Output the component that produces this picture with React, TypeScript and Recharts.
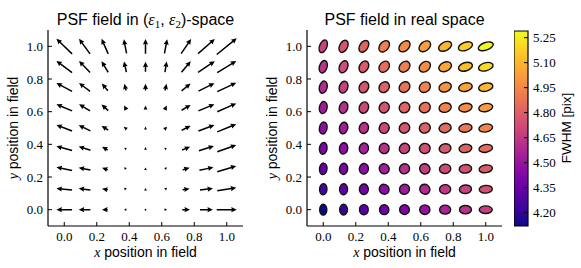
import React from "react";
import { ScatterChart, Scatter, XAxis, YAxis, ReferenceArea } from "recharts";

// grid of PSF sample positions (same for x and y)
const gridPos = [0, 0.125, 0.25, 0.375, 0.5, 0.625, 0.75, 0.875, 1.0];
const axisTicks = [0, 0.2, 0.4, 0.6, 0.8, 1.0];
const fwhmTicks = [4.2, 4.35, 4.5, 4.65, 4.8, 4.95, 5.1, 5.25];

// rows go from y = 0.0 (bottom) to y = 1.0 (top), columns x = 0.0 -> 1.0
const e1Rows = [
  [-0.209, -0.156, -0.076, -0.03, 0, 0.033, 0.103, 0.173, 0.267],
  [-0.209, -0.156, -0.076, -0.007, 0, 0.007, 0.093, 0.173, 0.253],
  [-0.209, -0.156, -0.076, -0.009, 0, 0.009, 0.093, 0.187, 0.253],
  [-0.209, -0.156, -0.076, -0.027, 0, 0.027, 0.107, 0.2, 0.253],
  [-0.209, -0.156, -0.089, -0.04, 0, 0.036, 0.12, 0.213, 0.253],
  [-0.209, -0.147, -0.089, -0.031, 0, 0.027, 0.12, 0.213, 0.253],
  [-0.209, -0.147, -0.08, -0.023, 0, 0.02, 0.12, 0.213, 0.253],
  [-0.209, -0.147, -0.089, -0.031, 0, 0.023, 0.124, 0.223, 0.253],
  [-0.209, -0.147, -0.089, -0.036, 0, 0.036, 0.133, 0.223, 0.267],
];

const e2Rows = [
  [0, 0, 0, 0, 0, 0, 0, 0, 0],
  [0.023, 0.017, 0.013, -0.033, 0.033, -0.033, 0.013, 0.023, 0.04],
  [0.044, 0.031, 0.027, -0.03, 0.033, -0.03, 0.027, 0.04, 0.076],
  [0.057, 0.049, 0.044, 0.013, 0.036, 0.013, 0.044, 0.063, 0.089],
  [0.08, 0.076, 0.053, 0.031, 0.04, 0.036, 0.063, 0.08, 0.103],
  [0.089, 0.089, 0.08, 0.057, 0.053, 0.057, 0.071, 0.089, 0.111],
  [0.111, 0.111, 0.097, 0.089, 0.089, 0.089, 0.097, 0.107, 0.12],
  [0.156, 0.156, 0.147, 0.143, 0.133, 0.143, 0.147, 0.147, 0.156],
  [0.2, 0.2, 0.2, 0.187, 0.196, 0.187, 0.196, 0.196, 0.217],
];

const fwhmRows = [
  [4.12, 4.21, 4.3, 4.37, 4.42, 4.49, 4.56, 4.62, 4.68],
  [4.25, 4.32, 4.39, 4.46, 4.53, 4.59, 4.65, 4.69, 4.74],
  [4.33, 4.4, 4.47, 4.54, 4.61, 4.67, 4.72, 4.75, 4.79],
  [4.41, 4.47, 4.55, 4.62, 4.69, 4.74, 4.78, 4.81, 4.85],
  [4.47, 4.53, 4.62, 4.71, 4.76, 4.81, 4.85, 4.89, 4.94],
  [4.53, 4.61, 4.71, 4.76, 4.82, 4.87, 4.93, 4.97, 5.02],
  [4.59, 4.68, 4.76, 4.81, 4.87, 4.93, 4.99, 5.04, 5.11],
  [4.63, 4.73, 4.79, 4.86, 4.92, 4.97, 5.06, 5.13, 5.21],
  [4.69, 4.76, 4.82, 4.92, 4.96, 5.03, 5.1, 5.17, 5.29],
];

const plasmaStops = [
  "#0d0887", "#41049d", "#6a00a8", "#8f0da4", "#b12a90", "#cc4778",
  "#e16462", "#f2844b", "#fca636", "#fcce25", "#f0f921",
];

const points = gridPos.flatMap((y, j) =>
  gridPos.map((x, i) => ({ x, y, e1: e1Rows[j][i], e2: e2Rows[j][i], fwhm: fwhmRows[j][i] }))
);
const fwhmMin = Math.min(...fwhmRows.flat());
const fwhmMax = Math.max(...fwhmRows.flat());

const serif = "'Liberation Serif', 'DejaVu Serif', serif";
const sans = "'Liberation Sans', Arial, sans-serif";
const ARROW_SCALE = 75; // px per unit ellipticity

function rgb(c: string) {
  return [1, 3, 5].map((k) => parseInt(c.slice(k, k + 2), 16));
}

function plasma(t: number) {
  const p = Math.max(0, Math.min(1, t)) * 10;
  const i = Math.min(9, Math.floor(p));
  const f = p - i;
  const a = rgb(plasmaStops[i]);
  const b = rgb(plasmaStops[i + 1]);
  const m = a.map((v, k) => Math.round(v + (b[k] - v) * f));
  return `rgb(${m[0]},${m[1]},${m[2]})`;
}

function Arrow(props: any) {
  const { cx, cy, payload } = props;
  const dx = payload.e1 * ARROW_SCALE;
  const dy = -payload.e2 * ARROW_SCALE;
  const len = Math.hypot(dx, dy);
  if (len < 1) return <circle cx={cx} cy={cy} r={0.9} fill="#000" />;
  const ux = dx / len, uy = dy / len;
  const nx = -uy, ny = ux;
  const tx = cx - (ux * len) / 2, ty = cy - (uy * len) / 2;
  const pt = (a: number, b: number) => `${tx + ux * a + nx * b},${ty + uy * a + ny * b}`;
  if (len < 5.5) {
    // short vectors: only the head is left
    const w = Math.max(1.4, (2.6 * len) / 5.5);
    return <polygon points={[pt(0, -w), pt(len, 0), pt(0, w)].join(" ")} fill="#000" />;
  }
  const hl = 5.5, hal = 5, hw = 2.6, sw = 0.75;
  const pts = [pt(0, -sw), pt(len - hal, -sw), pt(len - hl, -hw), pt(len, 0), pt(len - hl, hw), pt(len - hal, sw), pt(0, sw)].join(" ");
  return <polygon points={pts} fill="#000" />;
}

function PsfEllipse(props: any) {
  const { cx, cy, payload } = props;
  const g = Math.hypot(payload.e1, payload.e2);
  const theta = (0.5 * Math.atan2(payload.e2, payload.e1) * 180) / Math.PI;
  const s = payload.fwhm * 1.1;
  const color = plasma((payload.fwhm - fwhmMin) / (fwhmMax - fwhmMin));
  return (
    <ellipse cx={cx} cy={cy} rx={s * (1 + g)} ry={s * (1 - g)}
      transform={`rotate(${-theta} ${cx} ${cy})`} fill={color} stroke="#111" strokeWidth={1.4} />
  );
}

const Empty = () => <g />;

function BottomTick({ x, y, payload }: any) {
  return (
    <g>
      <line x1={x} y1={y} x2={x} y2={y - 4} stroke="#000" />
      <text x={x} y={y + 15} textAnchor="middle" fontFamily={serif} fontSize={13} fill="#000">
        {Number(payload.value).toFixed(1)}
      </text>
    </g>
  );
}
function TopTick({ x, y }: any) {
  return <line x1={x} y1={y} x2={x} y2={y + 4} stroke="#000" />;
}
function LeftTick({ x, y, payload }: any) {
  return (
    <g>
      <line x1={x} y1={y} x2={x + 4} y2={y} stroke="#000" />
      <text x={x - 5} y={y + 4.5} textAnchor="end" fontFamily={serif} fontSize={13} fill="#000">
        {Number(payload.value).toFixed(1)}
      </text>
    </g>
  );
}
function RightTick({ x, y }: any) {
  return <line x1={x} y1={y} x2={x - 4} y2={y} stroke="#000" />;
}
function CbarTick({ x, y, payload }: any) {
  return (
    <g>
      <line x1={x} y1={y} x2={x - 4} y2={y} stroke="#000" />
      <text x={x + 5} y={y + 4.5} textAnchor="start" fontFamily={serif} fontSize={13} fill="#000">
        {Number(payload.value).toFixed(2)}
      </text>
    </g>
  );
}

function FieldPanel({ left, shape }: { left: number; shape: any }) {
  const common = { type: "number" as const, domain: [-0.1, 1.1], ticks: axisTicks, allowDataOverflow: true,
    tickSize: 0, tickMargin: 0, tickLine: false, interval: 0 as const, axisLine: { stroke: "#000", strokeWidth: 1.2 } };
  return (
    <div style={{ position: "absolute", left, top: 0 }}>
      <ScatterChart width={243} height={268} margin={{ top: 30, right: 0, bottom: 0, left: 0 }}>
        <XAxis xAxisId="b" dataKey="x" height={42} tick={(p: any) => <BottomTick {...p} />} {...common} />
        <XAxis xAxisId="t" dataKey="x" orientation="top" height={0} tick={(p: any) => <TopTick {...p} />} {...common} />
        <YAxis yAxisId="l" dataKey="y" width={48} tick={(p: any) => <LeftTick {...p} />} {...common} />
        <YAxis yAxisId="r" dataKey="y" orientation="right" width={0} tick={(p: any) => <RightTick {...p} />} {...common} />
        <Scatter data={points} xAxisId="t" yAxisId="r" shape={Empty} isAnimationActive={false} />
        <Scatter data={points} xAxisId="b" yAxisId="l" shape={shape} isAnimationActive={false} />
      </ScatterChart>
    </div>
  );
}

const cbarData = [
  { x: 0, v: fwhmMin },
  { x: 1, v: fwhmMax },
];

function ColorBar() {
  return (
    <div style={{ position: "absolute", left: 514, top: 0 }}>
      <ScatterChart width={54} height={268} margin={{ top: 31, right: 0, bottom: 42, left: 0 }}>
        <defs>
          <linearGradient id="plasmaGrad" x1="0" y1="1" x2="0" y2="0">
            {plasmaStops.map((c, i) => (
              <stop key={c} offset={`${i * 10}%`} stopColor={c} />
            ))}
          </linearGradient>
        </defs>
        <XAxis dataKey="x" type="number" domain={[0, 1]} allowDataOverflow hide />
        <YAxis dataKey="v" type="number" orientation="right" width={40} domain={[fwhmMin, fwhmMax]}
          allowDataOverflow ticks={fwhmTicks} interval={0} tickSize={0} tickMargin={0} tickLine={false}
          axisLine={false} tick={(p: any) => <CbarTick {...p} />} />
        <Scatter data={cbarData} shape={Empty} isAnimationActive={false} />
        <ReferenceArea x1={0} x2={1} y1={fwhmMin} y2={fwhmMax} fill="url(#plasmaGrad)" fillOpacity={1}
          stroke="#000" strokeWidth={1.2} ifOverflow="visible" />
      </ScatterChart>
    </div>
  );
}

export default function App() {
  const eps = (n: string) => (
    <>
      <tspan fontFamily={serif} fontStyle="italic">ε</tspan>
      <tspan fontFamily={serif} fontSize={11} dy={3}>{n}</tspan>
    </>
  );
  return (
    <div style={{ position: "absolute", left: 0, top: 0, width: 581, height: 268, background: "#fff" }}>
      <FieldPanel left={0} shape={Arrow} />
      <FieldPanel left={259} shape={PsfEllipse} />
      <ColorBar />
      <svg width={581} height={268} style={{ position: "absolute", left: 0, top: 0, pointerEvents: "none" }}>
        <text x={145.5} y={25} textAnchor="middle" fontFamily={sans} fontSize={16} fill="#000">
          PSF field in ({eps("1")}<tspan dy={-3}>, </tspan>{eps("2")}<tspan dy={-3}>)-space</tspan>
        </text>
        <text x={404.5} y={25} textAnchor="middle" fontFamily={sans} fontSize={16} fill="#000">
          PSF field in real space
        </text>
        <text x={145.5} y={257} textAnchor="middle" fontFamily={sans} fontSize={14} fill="#000">
          <tspan fontFamily={serif} fontStyle="italic">x</tspan> position in field
        </text>
        <text x={404.5} y={257} textAnchor="middle" fontFamily={sans} fontSize={14} fill="#000">
          <tspan fontFamily={serif} fontStyle="italic">x</tspan> position in field
        </text>
        <text transform="translate(18,128) rotate(-90)" textAnchor="middle" fontFamily={sans} fontSize={14} fill="#000">
          <tspan fontFamily={serif} fontStyle="italic">y</tspan> position in field
        </text>
        <text transform="translate(277,128) rotate(-90)" textAnchor="middle" fontFamily={sans} fontSize={14} fill="#000">
          <tspan fontFamily={serif} fontStyle="italic">y</tspan> position in field
        </text>
        <text transform="translate(571,128) rotate(-90)" textAnchor="middle" fontFamily={sans} fontSize={13.5} fill="#000">
          FWHM [pix]
        </text>
      </svg>
    </div>
  );
}
